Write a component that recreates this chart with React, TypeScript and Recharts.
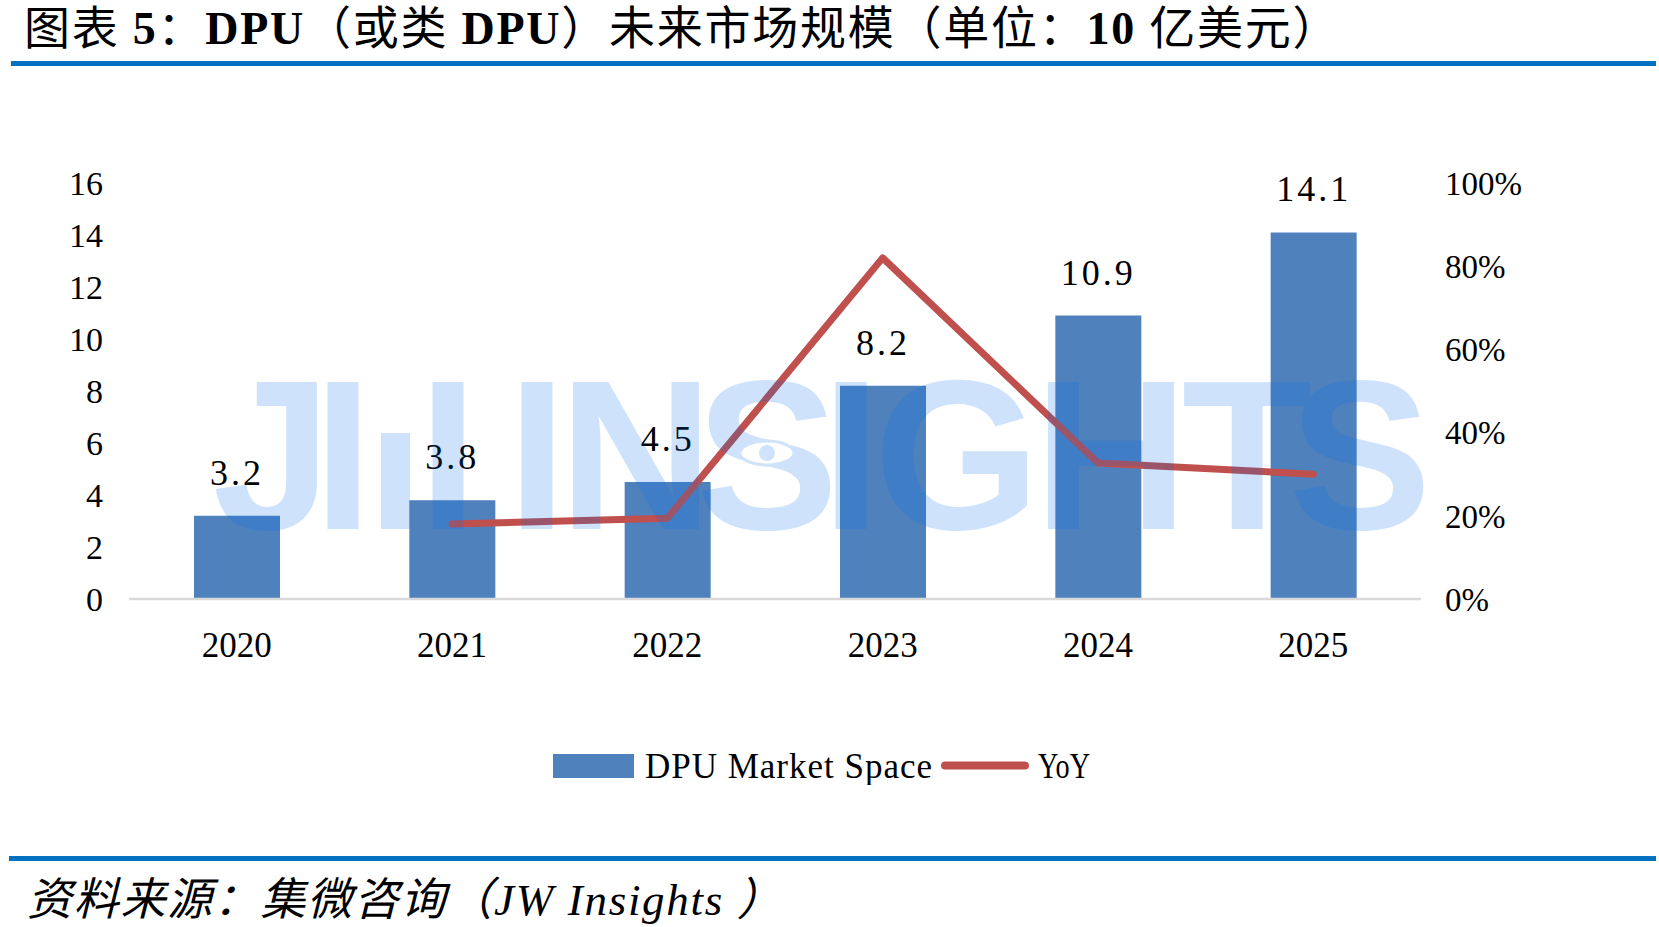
import { ComposedChart, Bar, Line, XAxis, YAxis, LabelList, Legend } from 'recharts'

const years = ['2020', '2021', '2022', '2023', '2024', '2025']
const marketSpace = [3.2, 3.8, 4.5, 8.2, 10.9, 14.1]
const yoyGrowth = [null, 18.0, 19.4, 82.0, 32.7, 30.0]
const leftTicks = [0, 2, 4, 6, 8, 10, 12, 14, 16]
const rightTicks = [0, 20, 40, 60, 80, 100]

const BLUE = '#4f81bd'
const RED = '#c0504d'
const RULE = '#0070c0'
const SERIF = '"Liberation Serif", "Times New Roman", serif'
const MIXED = '"Liberation Serif", "Noto Sans CJK SC", serif'

const chartData = years.map((year, i) => ({
    year,
    market: marketSpace[i],
    yoy: yoyGrowth[i],
}))

const tickStyle = { fontFamily: SERIF, fontSize: 34, fill: '#000' }

function renderLegend() {
    return (
        <svg width={1659} height={40} style={{ display: 'block' }}>
            <rect x={553} y={9} width={81} height={24} fill={BLUE} />
            <text x={645} y={33} fontFamily={SERIF} fontSize={35} fill="#000" textLength={287} lengthAdjust="spacing">
                DPU Market Space
            </text>
            <line x1={945} x2={1025} y1={20.5} y2={20.5} stroke={RED} strokeWidth={8} strokeLinecap="round" />
            <text x={1038} y={33} fontFamily={SERIF} fontSize={35} fill="#000" textLength={52} lengthAdjust="spacingAndGlyphs">
                YoY
            </text>
        </svg>
    )
}

// faint "JI INSIGHTS" watermark laid over the plot
const watermarkLetters: [string, number][] = [
    ['J', 272], ['I', 343], ['I', 448], ['I', 537], ['N', 636], ['S', 767],
    ['I', 851], ['G', 957], ['H', 1111], ['T', 1247], ['S', 1360],
]

export default function App() {
    return (
        <div style={{ position: 'absolute', left: 0, top: 0, width: 1659, height: 927, background: '#fff' }}>
            <ComposedChart width={1659} height={927} data={chartData} margin={{ top: 183, right: 0, bottom: 0, left: 0 }}>
                <XAxis
                    dataKey="year"
                    height={328}
                    interval={0}
                    axisLine={{ stroke: '#d9d9d9', strokeWidth: 2.5 }}
                    tickLine={false}
                    tickSize={0}
                    tickMargin={33}
                    tick={{ fontFamily: SERIF, fontSize: 35, fill: '#000' }}
                />
                <YAxis
                    yAxisId="left"
                    width={129}
                    domain={[0, 16]}
                    ticks={leftTicks}
                    interval={0}
                    axisLine={false}
                    tickLine={false}
                    tickSize={0}
                    tickMargin={26}
                    tick={tickStyle}
                />
                <YAxis
                    yAxisId="right"
                    orientation="right"
                    width={238}
                    domain={[0, 100]}
                    ticks={rightTicks}
                    interval={0}
                    axisLine={false}
                    tickLine={false}
                    tickSize={0}
                    tickMargin={24}
                    tick={{ ...tickStyle, fontSize: 33, textAnchor: 'start' }}
                    tickFormatter={(v) => `${v}%`}
                />
                <Bar yAxisId="left" dataKey="market" fill={BLUE} barSize={86} isAnimationActive={false}>
                    <LabelList
                        dataKey="market"
                        position="top"
                        offset={31}
                        fill="#000"
                        fontFamily={SERIF}
                        fontSize={36}
                        letterSpacing={3}
                    />
                </Bar>
                <Line
                    yAxisId="right"
                    dataKey="yoy"
                    type="linear"
                    stroke={RED}
                    strokeWidth={7}
                    strokeLinecap="round"
                    strokeLinejoin="round"
                    dot={false}
                    activeDot={false}
                    isAnimationActive={false}
                />
                <Legend
                    content={renderLegend}
                    layout="horizontal"
                    verticalAlign="middle"
                    align="center"
                    wrapperStyle={{ top: 745, left: 0, width: 1659, height: 40 }}
                />
            </ComposedChart>

            <svg width={1659} height={927} style={{ position: 'absolute', left: 0, top: 0, pointerEvents: 'none' }}>
                <text x={24} y={44} fontFamily={MIXED} fontSize={46} fill="#000" letterSpacing={1.75}>
                    图表 <tspan fontWeight="bold">5</tspan>：<tspan fontWeight="bold">DPU</tspan>（或类 <tspan fontWeight="bold">DPU</tspan>）未来市场规模（单位：<tspan fontWeight="bold">10</tspan> 亿美元）
                </text>
                <rect x={11} y={61} width={1645} height={5} fill={RULE} />

                <g fill="rgb(0,109,237)" opacity={0.19}>
                    {watermarkLetters.map(([ch, x], i) => (
                        <text key={i} x={x} y={529} textAnchor="middle" fontFamily='"Liberation Sans", Arial, sans-serif' fontWeight="bold" fontSize={214}>
                            {ch}
                        </text>
                    ))}
                    <rect x={381} y={433} width={29} height={96} />
                </g>
                <ellipse cx={767} cy={453} rx={27} ry={12} fill="#fff" stroke="#cfe3fb" strokeWidth={3} />
                <circle cx={767} cy={453} r={8} fill="#cfe3fb" />

                <rect x={9} y={856} width={1647} height={5} fill={RULE} />
                <text x={27} y={915} fontFamily={MIXED} fontStyle="italic" fontSize={45} fill="#000" letterSpacing={1.7}>
                    资料来源：集微咨询（JW Insights ）
                </text>
            </svg>
        </div>
    )
}
